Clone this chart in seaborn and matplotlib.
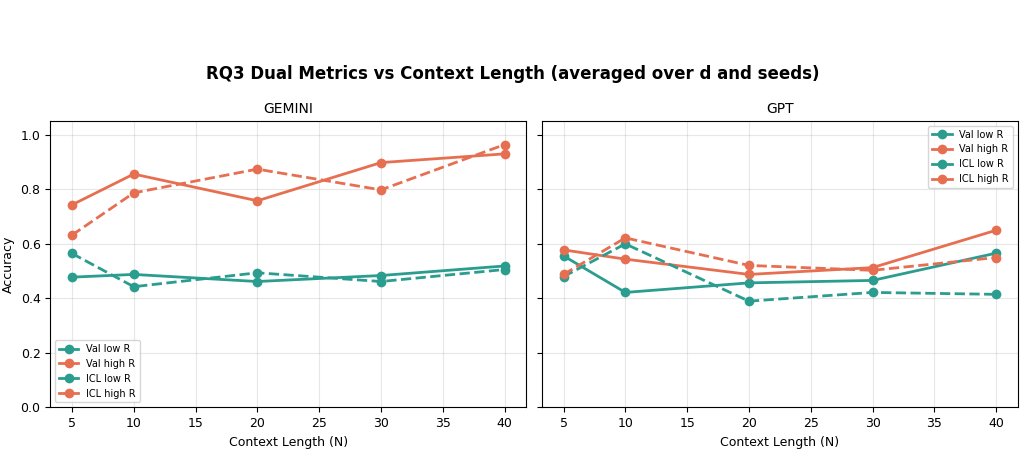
import pandas as pd
import matplotlib.pyplot as plt
import seaborn as sns

context_lengths = [5, 10, 20, 30, 40]

# GEMINI
gemini_val_low = [0.477, 0.487, 0.461, 0.483, 0.518]
gemini_val_high = [0.742, 0.855, 0.757, 0.897, 0.929]
gemini_icl_low = [0.564, 0.442, 0.493, 0.461, 0.505]
gemini_icl_high = [0.631, 0.786, 0.873, 0.797, 0.963]

# GPT
gpt_val_low = [0.555, 0.421, 0.456, 0.465, 0.565]
gpt_val_high = [0.577, 0.543, 0.487, 0.512, 0.649]
gpt_icl_low = [0.479, 0.599, 0.389, 0.421, 0.414]
gpt_icl_high = [0.487, 0.621, 0.520, 0.502, 0.549]

models = ['GEMINI', 'GPT']
series = {
    'GEMINI': [('Val low R', gemini_val_low), ('Val high R', gemini_val_high),
               ('ICL low R', gemini_icl_low), ('ICL high R', gemini_icl_high)],
    'GPT': [('Val low R', gpt_val_low), ('Val high R', gpt_val_high),
            ('ICL low R', gpt_icl_low), ('ICL high R', gpt_icl_high)],
}
colors = {'low': '#2a9d8f', 'high': '#e76f51'}

fig, axes = plt.subplots(1, 2, figsize=(10.26, 4.51), dpi=100, sharey=True)

for ax, model in zip(axes, models):
    for label, vals in series[model]:
        df = pd.DataFrame({'N': context_lengths, 'acc': vals})
        color = colors['low'] if 'low' in label else colors['high']
        ls = '-' if label.startswith('Val') else '--'
        sns.lineplot(data=df, x='N', y='acc', ax=ax, color=color, linestyle=ls,
                     marker='o', markersize=7, markeredgewidth=0, linewidth=2,
                     label=label)
    ax.set_title(model, fontsize=10)
    ax.set_xlabel('Context Length (N)', fontsize=9)
    ax.set_ylabel('Accuracy', fontsize=9)
    ax.set_ylim(0, 1.05)
    ax.set_xticks([5, 10, 15, 20, 25, 30, 35, 40])
    ax.tick_params(labelsize=9)
    ax.grid(True, alpha=0.3)

legs = [axes[0].legend(loc='lower left', fontsize=7),
        axes[1].legend(loc='upper right', fontsize=7)]
# legend handles are drawn solid in the reference
for leg in legs:
    for h in leg.get_lines():
        h.set_linestyle('-')

fig.suptitle('RQ3 Dual Metrics vs Context Length (averaged over d and seeds)',
             fontsize=12, fontweight='bold', y=0.855)
fig.subplots_adjust(left=0.049, right=0.992, top=0.732, bottom=0.097, wspace=0.033)
fig.savefig('out.png', dpi=100)
